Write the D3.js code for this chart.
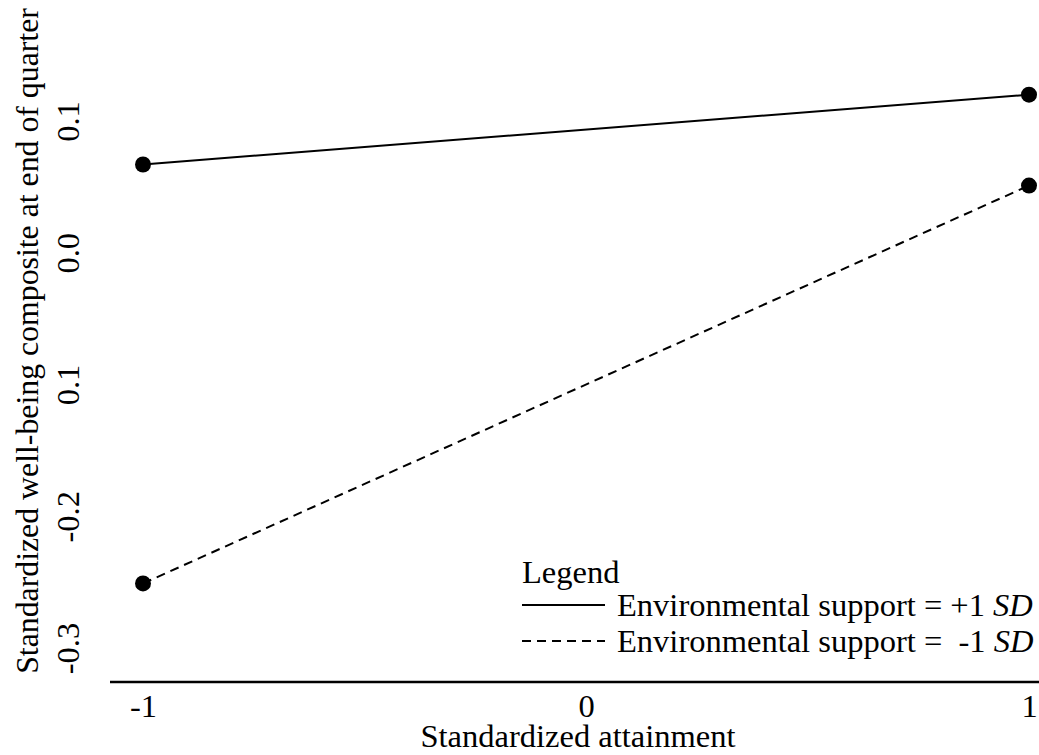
<!DOCTYPE html>
<html>
<head>
<meta charset="utf-8">
<script src="https://cdn.jsdelivr.net/npm/d3@7"></script>
<style>
  html, body { margin: 0; padding: 0; background: #fff; }
  svg { display: block; }
  text { font-family: "Liberation Serif", "Times New Roman", serif; fill: #000; }
</style>
</head>
<body>
<svg id="chart" width="1039" height="755"></svg>
<script>
// Simple slopes: well-being vs attainment at two levels of environmental support
const attainment = [-1, 1];
const supportHigh = [0.067, 0.120];   // Environmental support = +1 SD
const supportLow = [-0.251, 0.051];   // Environmental support = -1 SD
const xTicks = [-1, 0, 1];
const xTickLabels = ["-1", "0", "1"];
const yTicks = [0.1, 0.0, -0.1, -0.2, -0.3];
const yTickLabels = ["0.1", "0.0", "0.1", "-0.2", "-0.3"];

const W = 1039, H = 755;
const svg = d3.select("#chart");

const x = d3.scaleLinear().domain([-1, 1]).range([143, 1029]);
const y = d3.scaleLinear().domain([-0.3, 0.1]).range([648, 121]);

const fs = 32.5;

// x axis
const xAxis = svg.append("g")
  .attr("transform", `translate(0,${682})`)
  .call(d3.axisBottom(x).tickValues(xTicks).tickSize(0).tickPadding(12)
    .tickFormat((d, i) => xTickLabels[i]));
xAxis.select(".domain").remove();
xAxis.selectAll("text")
  .attr("font-family", "Liberation Serif")
  .attr("font-size", fs)
  .attr("dy", "0.71em")
  .attr("fill", "#000");
svg.append("line")
  .attr("x1", x(-1) - 33).attr("x2", W)
  .attr("y1", 682).attr("y2", 682)
  .attr("stroke", "#000").attr("stroke-width", 2.5);

// y tick labels (rotated)
const yAxis = svg.append("g")
  .attr("transform", "translate(79,0)")
  .call(d3.axisLeft(y).tickValues(yTicks).tickSize(0)
    .tickFormat((d, i) => yTickLabels[i]));
yAxis.select(".domain").remove();
yAxis.selectAll(".tick text")
  .attr("x", 0).attr("dy", 0)
  .attr("transform", "rotate(-90)")
  .attr("text-anchor", "middle")
  .attr("font-family", "Liberation Serif")
  .attr("font-size", fs)
  .attr("fill", "#000");

// axis titles
svg.append("text")
  .attr("x", 578).attr("y", 747)
  .attr("text-anchor", "middle")
  .attr("font-size", fs)
  .text("Standardized attainment");
svg.append("text")
  .attr("transform", "translate(38,341) rotate(-90)")
  .attr("text-anchor", "middle")
  .attr("font-size", 31.8)
  .text("Standardized well-being composite at end of quarter");

// lines and points
const series = [
  { values: supportHigh, dash: null },
  { values: supportLow, dash: "9,6" }
];
const line = d3.line().x(d => x(d[0])).y(d => y(d[1]));
series.forEach(s => {
  const pts = attainment.map((a, i) => [a, s.values[i]]);
  svg.append("path")
    .attr("d", line(pts))
    .attr("fill", "none")
    .attr("stroke", "#000")
    .attr("stroke-width", 2)
    .attr("stroke-dasharray", s.dash);
  svg.selectAll(null).data(pts).enter().append("circle")
    .attr("cx", d => x(d[0])).attr("cy", d => y(d[1]))
    .attr("r", 8).attr("fill", "#000");
});

// legend
const lg = svg.append("g");
lg.append("text").attr("x", 522).attr("y", 583).attr("font-size", fs).text("Legend");
const legendRows = [
  { dash: null, label: "Environmental support = +1 ", y: 616 },
  { dash: "9,6", label: "Environmental support = \u00a0-1 ", y: 652 }
];
legendRows.forEach(r => {
  lg.append("line")
    .attr("x1", 522).attr("x2", 605)
    .attr("y1", r.y - 11).attr("y2", r.y - 11)
    .attr("stroke", "#000").attr("stroke-width", 2)
    .attr("stroke-dasharray", r.dash);
  const t = lg.append("text").attr("x", 617).attr("y", r.y).attr("font-size", fs)
    .attr("xml:space", "preserve");
  t.append("tspan").text(r.label);
  t.append("tspan").attr("font-style", "italic").text("SD");
});
</script>
</body>
</html>
